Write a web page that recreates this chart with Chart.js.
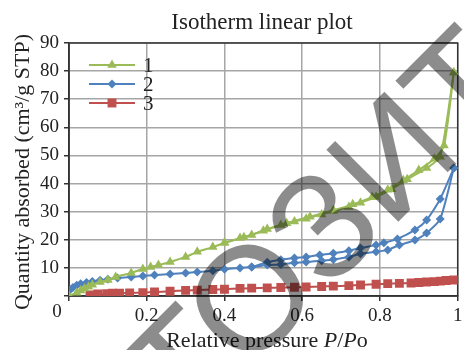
<!DOCTYPE html>
<html>
<head>
<meta charset="utf-8">
<script src="https://cdn.jsdelivr.net/npm/chart.js@4"></script>
<style>
  body { margin: 0; background: #fff; }
  #wrap { width: 464px; height: 350px; }
</style>
</head>
<body>
<div id="wrap"><canvas id="isoChart" width="464" height="350"></canvas></div>
<script>
// Sample 1 (green) - adsorption / desorption
const p1Ads = [0.0, 0.02, 0.03, 0.04, 0.05, 0.06, 0.08, 0.1, 0.12, 0.16, 0.19, 0.21, 0.23, 0.26, 0.3, 0.33, 0.37, 0.4, 0.44, 0.47, 0.51, 0.545, 0.58, 0.61, 0.65, 0.68, 0.72, 0.75, 0.79, 0.83, 0.87, 0.92, 0.955, 0.99];
const q1Ads = [0.0, 1.2, 2.0, 2.7, 3.3, 4.0, 5.0, 5.7, 6.8, 8.2, 9.6, 10.3, 11.0, 12.1, 13.9, 15.7, 17.4, 18.9, 20.6, 21.7, 23.8, 25.3, 26.5, 27.5, 29.0, 30.2, 31.7, 33.2, 35.2, 38.0, 41.5, 45.5, 49.5, 79.5];
const p1Des = [0.4, 0.45, 0.5, 0.56, 0.62, 0.68, 0.73, 0.78, 0.82, 0.86, 0.9, 0.94, 0.965, 0.99];
const q1Des = [18.9, 20.9, 23.2, 25.9, 28.2, 30.5, 32.6, 35.2, 37.8, 41.2, 44.8, 48.8, 53.5, 79.5];

// Sample 2 (blue)
const p2Ads = [0.003, 0.01, 0.02, 0.03, 0.045, 0.06, 0.08, 0.1, 0.125, 0.16, 0.19, 0.22, 0.26, 0.3, 0.33, 0.37, 0.4, 0.44, 0.47, 0.51, 0.545, 0.58, 0.61, 0.65, 0.68, 0.72, 0.75, 0.79, 0.82, 0.85, 0.89, 0.92, 0.955, 0.99];
const q2Ads = [2.2, 3.0, 3.8, 4.4, 4.8, 5.2, 5.6, 6.0, 6.4, 6.8, 7.1, 7.5, 7.8, 8.2, 8.5, 9.0, 9.5, 10.0, 10.3, 11.0, 11.2, 11.8, 12.1, 12.5, 13.0, 13.9, 15.0, 15.7, 16.4, 18.1, 19.9, 22.4, 27.4, 45.5];
const p2Des = [0.47, 0.51, 0.545, 0.58, 0.61, 0.645, 0.68, 0.72, 0.75, 0.79, 0.81, 0.845, 0.89, 0.92, 0.955, 0.99];
const q2Des = [10.3, 12.0, 12.9, 13.5, 13.9, 14.6, 15.2, 16.1, 17.1, 18.1, 18.9, 20.3, 23.5, 27.0, 34.5, 45.5];

// Sample 3 (red)
const p3 = [0.054, 0.074, 0.097, 0.112, 0.13, 0.156, 0.19, 0.22, 0.26, 0.3, 0.33, 0.37, 0.4, 0.44, 0.47, 0.51, 0.545, 0.58, 0.61, 0.65, 0.68, 0.72, 0.75, 0.79, 0.82, 0.85, 0.88, 0.9, 0.92, 0.94, 0.955, 0.97, 0.99];
const q3 = [0.4, 0.7, 0.8, 1.0, 1.0, 1.1, 1.2, 1.4, 1.7, 2.0, 2.1, 2.3, 2.4, 2.7, 2.8, 2.9, 3.0, 3.1, 3.2, 3.4, 3.5, 3.7, 3.9, 4.2, 4.4, 4.5, 4.6, 4.8, 5.0, 5.1, 5.3, 5.5, 5.7];

const seriesNames = ['1', '2', '3'];
const xTicks = [0, 0.2, 0.4, 0.6, 0.8, 1];
const yTicks = [0, 10, 20, 30, 40, 50, 60, 70, 80, 90];

const GREEN = '#9BBB59', BLUE = '#4F81BD', RED = '#C0504D';
const SERIF = '"Liberation Serif", "Times New Roman", serif';

const toXY = (ps, qs) => ps.map((p, i) => ({ x: p, y: qs[i] }));

function series(label, ps, qs, color, style, r) {
    return {
        label: label,
        data: toXY(ps, qs),
        borderColor: color,
        backgroundColor: color,
        borderWidth: 2,
        pointStyle: style,
        pointRadius: r,
        pointBorderWidth: 0,
        pointHoverRadius: r,
        tension: 0.2
    };
}

// frame round the plot (Excel style)
const framePlugin = {
    id: 'frame',
    beforeDatasetsDraw(chart) {
        const a = chart.chartArea, ctx = chart.ctx;
        ctx.save();
        ctx.strokeStyle = '#333';
        ctx.lineWidth = 1.5;
        ctx.strokeRect(a.left, a.top, a.right - a.left, a.bottom - a.top);
        ctx.restore();
    }
};

// titles, legend, corner 0 label
const textPlugin = {
    id: 'texts',
    afterDatasetsDraw(chart) {
        const ctx = chart.ctx;
        ctx.save();
        ctx.fillStyle = '#222';
        ctx.textBaseline = 'middle';

        // main title
        ctx.font = '23px ' + SERIF;
        ctx.textAlign = 'center';
        ctx.fillText('Isotherm linear plot', 262, 23);

        // x axis title with italic P
        const parts = [['Relative pressure ', ''], ['P', 'italic '], ['/', ''], ['P', 'italic '], ['o', '']];
        let total = 0;
        parts.forEach(p => { ctx.font = p[1] + '22px ' + SERIF; total += ctx.measureText(p[0]).width; });
        let x = 267 - total / 2;
        ctx.textAlign = 'left';
        parts.forEach(p => {
            ctx.font = p[1] + '22px ' + SERIF;
            ctx.fillText(p[0], x, 341);
            x += ctx.measureText(p[0]).width;
        });

        // y axis title
        ctx.save();
        ctx.translate(23, 172);
        ctx.rotate(-Math.PI / 2);
        ctx.textAlign = 'center';
        ctx.font = '22px ' + SERIF;
        ctx.fillText('Quantity absorbed (cm³/g STP)', 0, 0);
        ctx.restore();

        // shared origin label
        ctx.font = '19px ' + SERIF;
        ctx.textAlign = 'center';
        ctx.fillText('0', 57, 312);

        // legend: line + marker + label
        const rows = [65, 84, 103];
        for (let i = 0; i < 3; i++) {
            const ds = chart.data.datasets[i];
            const y = rows[i];
            ctx.strokeStyle = ds.borderColor;
            ctx.lineWidth = 2;
            ctx.beginPath();
            ctx.moveTo(89, y);
            ctx.lineTo(135, y);
            ctx.stroke();
            ctx.fillStyle = ds.backgroundColor;
            Chart.helpers.drawPoint(ctx, { pointStyle: ds.pointStyle, radius: ds.pointRadius, borderWidth: 0, rotation: 0 }, 112, y);
            ctx.fillStyle = '#222';
            ctx.font = '21px ' + SERIF;
            ctx.textAlign = 'left';
            ctx.fillText(ds.label, 143, y + 1);
        }
        ctx.restore();
    }
};

// translucent watermark over the picture
const watermarkPlugin = {
    id: 'watermark',
    afterDraw(chart) {
        const ctx = chart.ctx;
        ctx.save();
        ctx.translate(186, 434);
        ctx.rotate(-Math.PI / 4);
        ctx.fillStyle = 'rgba(0, 0, 0, 0.45)';
        ctx.font = '148px "Liberation Sans", Arial, sans-serif';
        ctx.textAlign = 'left';
        ctx.textBaseline = 'alphabetic';
        ctx.fillText('ТОЗИТ', 0, 0);
        ctx.restore();
    }
};

const ctx = document.getElementById('isoChart').getContext('2d');
new Chart(ctx, {
    type: 'line',
    data: {
        datasets: [
            series(seriesNames[0], p1Ads, q1Ads, GREEN, 'triangle', 5.5),
            series(seriesNames[1], p2Ads, q2Ads, BLUE, 'rectRot', 4.5),
            series(seriesNames[2], p3, q3, RED, 'rect', 6.3),
            series(seriesNames[0] + ' des', p1Des, q1Des, GREEN, 'triangle', 5.5),
            series(seriesNames[1] + ' des', p2Des, q2Des, BLUE, 'rectRot', 4.5)
        ]
    },
    options: {
        responsive: false,
        animation: false,
        layout: { padding: { top: 43, right: 3, left: 0, bottom: 0 } },
        plugins: {
            legend: { display: false },
            title: { display: false },
            tooltip: { enabled: false }
        },
        scales: {
            x: {
                type: 'linear',
                min: xTicks[0],
                max: xTicks[xTicks.length - 1],
                afterBuildTicks: s => { s.ticks = xTicks.map(v => ({ value: v })); },
                afterFit: s => { s.height = 54; s.paddingLeft = 0; s.paddingRight = 0; },
                ticks: {
                    maxRotation: 0,
                    padding: 4,
                    color: '#222',
                    font: { family: SERIF, size: 19 },
                    callback: v => v === 0 ? '' : String(Math.round(v * 10) / 10)
                },
                grid: { color: '#a6a6a6', lineWidth: 1.5, tickColor: '#333', tickLength: 5 },
                border: { color: '#333', width: 1.5 }
            },
            y: {
                min: yTicks[0],
                max: yTicks[yTicks.length - 1],
                afterBuildTicks: s => { s.ticks = yTicks.map(v => ({ value: v })); },
                afterFit: s => { s.width = 69; s.paddingTop = 0; s.paddingBottom = 0; },
                ticks: {
                    padding: 5,
                    color: '#222',
                    font: { family: SERIF, size: 19 },
                    callback: v => v === 0 ? '' : v
                },
                grid: { color: '#a6a6a6', lineWidth: 1.5, tickColor: '#333', tickLength: 5 },
                border: { color: '#333', width: 1.5 }
            }
        }
    },
    plugins: [framePlugin, textPlugin, watermarkPlugin]
});
</script>
</body>
</html>
